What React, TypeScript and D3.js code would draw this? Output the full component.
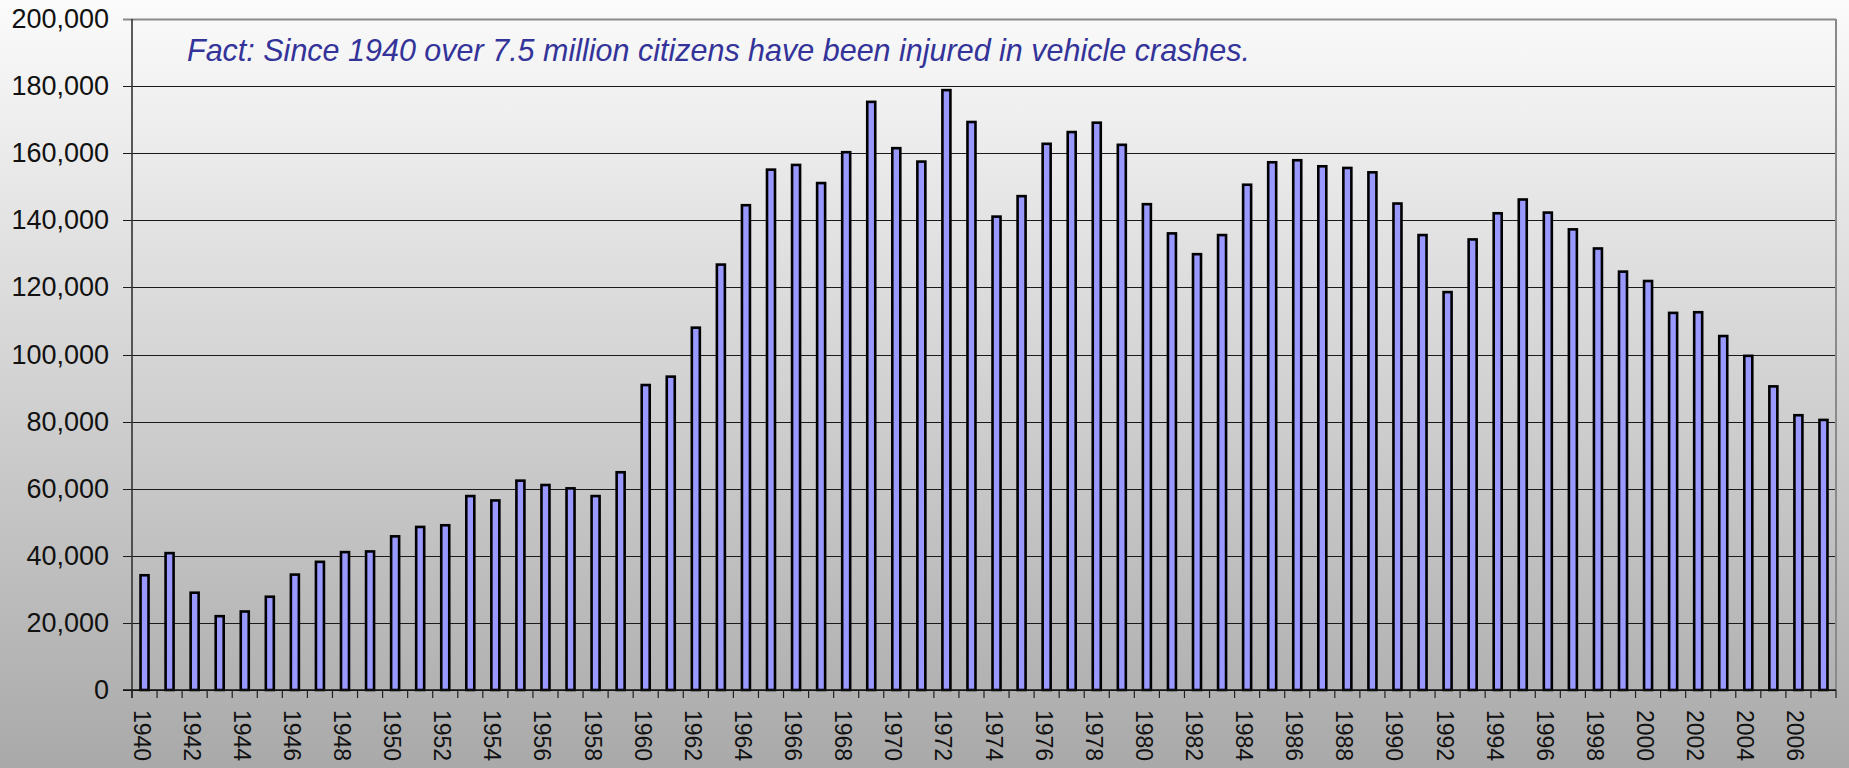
import React from "react";
import * as d3 from "d3";

const years: number[] = d3.range(1940, 2008);
const injuries: number[] = [
  34200, 40800, 29000, 22000, 23400, 27800, 34400, 38200, 41100, 41300,
  45800, 48600, 49100, 57800, 56500, 62400, 61100, 60100, 57800, 64900,
  90900, 93400, 108000, 126800, 144500, 155100, 156500, 151100, 160300, 175300,
  161500, 157500, 178800, 169300, 141100, 147200, 162800, 166300, 169100, 162500,
  144800, 136100, 129900, 135600, 150600, 157300, 157900, 156100, 155600, 154300,
  145000, 135600, 118600, 134300, 142100, 146200, 142300, 137300, 131600, 124700,
  121900, 112400, 112600, 105500, 99600, 90500, 81900, 80500,
];
const yTicks: number[] = d3.range(0, 200001, 20000);
const labelYears: number[] = years.filter((y) => y % 2 === 0);
const title = "Fact: Since 1940 over 7.5 million citizens have been injured in vehicle crashes.";

const W = 1849;
const H = 768;
const left = 132;
const right = 1836;
const top = 19;
const bottom = 690;

export default function App() {
  const x = d3.scaleBand<number>().domain(years).range([left, right]).padding(0);
  const y = d3.scaleLinear().domain([0, 200000]).range([bottom, top]);
  const fmt = d3.format(",");
  const step = x.step();
  const barW = 8;
  const font = "'Liberation Sans', Arial, Helvetica, sans-serif";

  return (
    <svg
      width={W}
      height={H}
      style={{ position: "absolute", left: 0, top: 0, display: "block" }}
      fontFamily={font}
    >
      <defs>
        <linearGradient id="bg" x1="0" y1="0" x2="0" y2="1">
          <stop offset="0" stopColor="#fbfbfb" />
          <stop offset="1" stopColor="#a9a9a9" />
        </linearGradient>
      </defs>
      <rect x={0} y={0} width={W} height={H} fill="url(#bg)" />

      {/* gridlines */}
      {yTicks.map((t) => (
        <line
          key={"g" + t}
          x1={left - 9}
          x2={right}
          y1={Math.round(y(t)) + 0.5}
          y2={Math.round(y(t)) + 0.5}
          stroke={t === 200000 ? "#8a8a8a" : "#1a1a1a"}
          strokeWidth={t === 200000 ? 2 : 1.2}
        />
      ))}
      {/* right border */}
      <line x1={right} x2={right} y1={top} y2={bottom} stroke="#8a8a8a" strokeWidth={2} />

      {/* bars */}
      {years.map((yr, i) => {
        const cx = (x(yr) as number) + step / 2;
        return (
          <rect
            key={yr}
            x={cx - barW / 2}
            y={y(injuries[i])}
            width={barW}
            height={y(0) - y(injuries[i])}
            fill="#9999ff"
            stroke="#000"
            strokeWidth={2.6}
          />
        );
      })}

      {/* axes */}
      <line x1={left} x2={left} y1={top} y2={bottom + 8} stroke="#333" strokeWidth={1.6} />
      <line x1={left - 9} x2={right} y1={bottom} y2={bottom} stroke="#111" strokeWidth={1.6} />
      {years.concat([2008]).map((yr, i) => {
        const xx = left + i * step;
        return <line key={"xt" + yr} x1={xx} x2={xx} y1={bottom} y2={bottom + 8} stroke="#222" strokeWidth={1.2} />;
      })}

      {/* y labels */}
      {yTicks.map((t) => (
        <text
          key={"yl" + t}
          x={109}
          y={y(t)}
          textAnchor="end"
          dominantBaseline="central"
          fontSize={27}
          fill="#111"
        >
          {fmt(t)}
        </text>
      ))}

      {/* x labels */}
      {labelYears.map((yr) => {
        const cx = (x(yr) as number) + step / 2 - 3;
        return (
          <text
            key={"xl" + yr}
            transform={`translate(${cx},${710}) rotate(90)`}
            textAnchor="start"
            dominantBaseline="central"
            fontSize={23}
            fill="#111"
          >
            {yr}
          </text>
        );
      })}

      {/* title */}
      <text x={187} y={61} fontSize={30.5} fontStyle="italic" fill="#333399">
        {title}
      </text>
    </svg>
  );
}
